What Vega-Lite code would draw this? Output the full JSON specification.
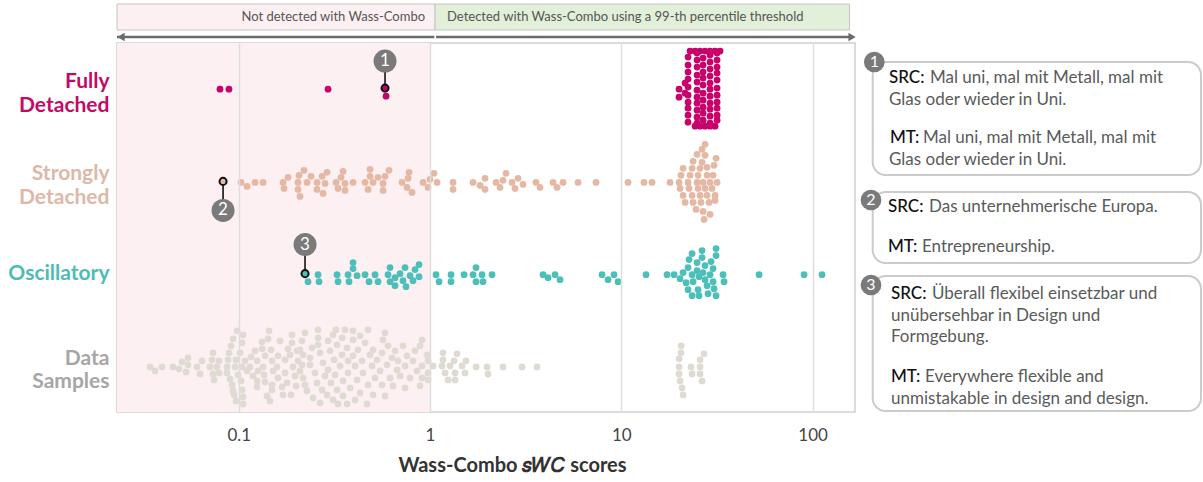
{
  "$schema": "https://vega.github.io/schema/vega-lite/v6.json",
  "background": "white",
  "padding": {"left": 7, "top": 0, "right": 0, "bottom": 0},
  "config": {"font": "Lato", "view": {"stroke": null}},
  "datasets": {
    "points": [
      {"group":"F","score":0.0798,"offset":0},{"group":"F","score":0.0889,"offset":0},{"group":"F","score":0.293,"offset":0},{"group":"F","score":0.5818,"offset":-1},{"group":"F","score":0.5888,"offset":7},
      {"group":"F","score":22.32,"offset":-32},{"group":"F","score":22.32,"offset":-24},{"group":"F","score":22.32,"offset":-17},{"group":"F","score":22.32,"offset":-10},{"group":"F","score":22.32,"offset":-2},{"group":"F","score":22.32,"offset":6},{"group":"F","score":22.32,"offset":13},{"group":"F","score":22.32,"offset":19},{"group":"F","score":22.32,"offset":26},{"group":"F","score":22.32,"offset":33},
      {"group":"F","score":24.88,"offset":-36},{"group":"F","score":24.88,"offset":-29},{"group":"F","score":24.88,"offset":-22},{"group":"F","score":24.88,"offset":-14},{"group":"F","score":24.88,"offset":-7},{"group":"F","score":24.88,"offset":1},{"group":"F","score":24.88,"offset":8},{"group":"F","score":24.88,"offset":14},{"group":"F","score":24.88,"offset":21},{"group":"F","score":24.88,"offset":28},{"group":"F","score":24.88,"offset":34},
      {"group":"F","score":26.74,"offset":-31},{"group":"F","score":26.74,"offset":-24},{"group":"F","score":26.74,"offset":-17},{"group":"F","score":26.74,"offset":-11},{"group":"F","score":26.74,"offset":-4},{"group":"F","score":26.74,"offset":4},{"group":"F","score":26.74,"offset":11},{"group":"F","score":26.74,"offset":18},{"group":"F","score":26.74,"offset":24},{"group":"F","score":26.74,"offset":31},
      {"group":"F","score":29.09,"offset":-34},{"group":"F","score":29.09,"offset":-27},{"group":"F","score":29.09,"offset":-20},{"group":"F","score":29.09,"offset":-13},{"group":"F","score":29.09,"offset":-6},{"group":"F","score":29.09,"offset":0},{"group":"F","score":29.09,"offset":7},{"group":"F","score":29.09,"offset":14},{"group":"F","score":29.09,"offset":20},{"group":"F","score":29.09,"offset":27},{"group":"F","score":29.09,"offset":34},
      {"group":"F","score":31.65,"offset":-36},{"group":"F","score":31.65,"offset":-29},{"group":"F","score":31.65,"offset":-22},{"group":"F","score":31.65,"offset":-16},{"group":"F","score":31.65,"offset":-9},{"group":"F","score":31.65,"offset":-1},{"group":"F","score":31.65,"offset":6},{"group":"F","score":31.65,"offset":13},{"group":"F","score":31.65,"offset":19},{"group":"F","score":31.65,"offset":26},{"group":"F","score":31.65,"offset":31},
      {"group":"F","score":20.03,"offset":0},{"group":"F","score":20.03,"offset":8},{"group":"F","score":21.53,"offset":-6},{"group":"F","score":21.53,"offset":4},
      {"group":"F","score":22.87,"offset":-38},{"group":"F","score":24.29,"offset":-38},{"group":"F","score":25.79,"offset":-38},{"group":"F","score":27.39,"offset":-38},{"group":"F","score":29.09,"offset":-38},{"group":"F","score":30.9,"offset":-38},{"group":"F","score":32.81,"offset":-38},
      {"group":"F","score":24.29,"offset":37},{"group":"F","score":25.79,"offset":37},{"group":"F","score":27.39,"offset":37},{"group":"F","score":29.09,"offset":37},{"group":"F","score":30.9,"offset":37},

      {"group":"S","score":0.0828,"offset":0},{"group":"S","score":0.1028,"offset":1},{"group":"S","score":0.1105,"offset":5},{"group":"S","score":0.1217,"offset":1},{"group":"S","score":0.134,"offset":1},{"group":"S","score":0.1704,"offset":1},{"group":"S","score":0.181,"offset":-4},{"group":"S","score":0.1725,"offset":7},{"group":"S","score":0.2066,"offset":-6},{"group":"S","score":0.2194,"offset":-11},{"group":"S","score":0.2041,"offset":1},{"group":"S","score":0.2041,"offset":8},{"group":"S","score":0.2091,"offset":15},{"group":"S","score":0.2275,"offset":1},{"group":"S","score":0.2388,"offset":-5},{"group":"S","score":0.2567,"offset":1},{"group":"S","score":0.2567,"offset":8},{"group":"S","score":0.2759,"offset":12},{"group":"S","score":0.2726,"offset":-5},{"group":"S","score":0.2895,"offset":-9},{"group":"S","score":0.2826,"offset":2},{"group":"S","score":0.3226,"offset":1},{"group":"S","score":0.3304,"offset":7},{"group":"S","score":0.3426,"offset":-4},{"group":"S","score":0.351,"offset":-10},{"group":"S","score":0.3595,"offset":2},{"group":"S","score":0.3595,"offset":9},{"group":"S","score":0.3958,"offset":1},{"group":"S","score":0.4573,"offset":1},{"group":"S","score":0.4741,"offset":8},{"group":"S","score":0.4857,"offset":-12},{"group":"S","score":0.4857,"offset":-5},{"group":"S","score":0.5036,"offset":1},{"group":"S","score":0.5348,"offset":-4},{"group":"S","score":0.568,"offset":2},{"group":"S","score":0.568,"offset":9},{"group":"S","score":0.5818,"offset":-5},{"group":"S","score":0.6105,"offset":-11},{"group":"S","score":0.7139,"offset":1},{"group":"S","score":0.7582,"offset":6},{"group":"S","score":0.7674,"offset":-3},{"group":"S","score":0.7767,"offset":-9},{"group":"S","score":0.8052,"offset":11},{"group":"S","score":0.9193,"offset":1},{"group":"S","score":0.9763,"offset":6},{"group":"S","score":1.0,"offset":-2},{"group":"S","score":1.0493,"offset":-8},{"group":"S","score":1.088,"offset":1},{"group":"S","score":1.319,"offset":1},{"group":"S","score":1.319,"offset":8},{"group":"S","score":1.678,"offset":1},{"group":"S","score":1.825,"offset":4},{"group":"S","score":1.938,"offset":-3},{"group":"S","score":1.938,"offset":8},{"group":"S","score":2.213,"offset":1},{"group":"S","score":2.322,"offset":6},{"group":"S","score":2.407,"offset":-1},{"group":"S","score":2.496,"offset":-8},{"group":"S","score":2.683,"offset":1},{"group":"S","score":2.782,"offset":7},{"group":"S","score":2.884,"offset":-3},{"group":"S","score":3.063,"offset":3},{"group":"S","score":3.582,"offset":1},{"group":"S","score":3.758,"offset":6},{"group":"S","score":4.395,"offset":1},{"group":"S","score":4.612,"offset":6},{"group":"S","score":4.957,"offset":1},{"group":"S","score":5.938,"offset":1},{"group":"S","score":7.375,"offset":1},{"group":"S","score":10.84,"offset":1},{"group":"S","score":13.14,"offset":1},{"group":"S","score":14.47,"offset":1},{"group":"S","score":17.97,"offset":1},
      {"group":"S","score":27.39,"offset":-37},{"group":"S","score":26.42,"offset":-32},{"group":"S","score":24.88,"offset":-27},{"group":"S","score":27.39,"offset":-26},{"group":"S","score":23.71,"offset":-20},{"group":"S","score":26.42,"offset":-19},{"group":"S","score":31.27,"offset":-23},
      {"group":"S","score":21.02,"offset":-13},{"group":"S","score":23.43,"offset":-13},{"group":"S","score":25.79,"offset":-13},{"group":"S","score":28.06,"offset":-14},{"group":"S","score":30.52,"offset":-16},
      {"group":"S","score":20.52,"offset":-6},{"group":"S","score":22.87,"offset":-6},{"group":"S","score":25.18,"offset":-6},{"group":"S","score":28.06,"offset":-6},{"group":"S","score":30.16,"offset":-6},
      {"group":"S","score":20.03,"offset":1},{"group":"S","score":22.32,"offset":1},{"group":"S","score":24.88,"offset":1},{"group":"S","score":26.74,"offset":1},{"group":"S","score":29.09,"offset":1},{"group":"S","score":31.65,"offset":1},
      {"group":"S","score":20.27,"offset":7},{"group":"S","score":22.59,"offset":7},{"group":"S","score":25.18,"offset":7},{"group":"S","score":27.39,"offset":7},{"group":"S","score":29.8,"offset":7},
      {"group":"S","score":21.02,"offset":14},{"group":"S","score":23.43,"offset":14},{"group":"S","score":25.79,"offset":14},{"group":"S","score":28.06,"offset":14},{"group":"S","score":30.9,"offset":14},
      {"group":"S","score":21.53,"offset":21},{"group":"S","score":23.71,"offset":21},{"group":"S","score":26.1,"offset":21},{"group":"S","score":28.74,"offset":21},{"group":"S","score":30.9,"offset":19},
      {"group":"S","score":24.58,"offset":28},{"group":"S","score":26.74,"offset":30},{"group":"S","score":29.09,"offset":33},{"group":"S","score":27.06,"offset":38},

      {"group":"O","score":0.2221,"offset":0},{"group":"O","score":0.2302,"offset":8},{"group":"O","score":0.2597,"offset":1},{"group":"O","score":0.2629,"offset":8},{"group":"O","score":0.3265,"offset":1},{"group":"O","score":0.3304,"offset":8},{"group":"O","score":0.3727,"offset":1},{"group":"O","score":0.3772,"offset":8},{"group":"O","score":0.3958,"offset":-11},{"group":"O","score":0.3958,"offset":-5},{"group":"O","score":0.4154,"offset":2},{"group":"O","score":0.4573,"offset":1},{"group":"O","score":0.4799,"offset":8},{"group":"O","score":0.5159,"offset":1},{"group":"O","score":0.5348,"offset":8},{"group":"O","score":0.6032,"offset":1},{"group":"O","score":0.6179,"offset":-6},{"group":"O","score":0.6179,"offset":8},{"group":"O","score":0.6563,"offset":4},{"group":"O","score":0.6563,"offset":12},{"group":"O","score":0.6969,"offset":0},{"group":"O","score":0.7225,"offset":7},{"group":"O","score":0.7402,"offset":-6},{"group":"O","score":0.7491,"offset":13},{"group":"O","score":0.786,"offset":2},{"group":"O","score":0.8149,"offset":7},{"group":"O","score":0.8348,"offset":-4},{"group":"O","score":0.876,"offset":3},{"group":"O","score":0.876,"offset":-9},{"group":"O","score":1.0749,"offset":1},{"group":"O","score":1.1145,"offset":8},{"group":"O","score":1.2874,"offset":1},{"group":"O","score":1.2874,"offset":8},{"group":"O","score":1.506,"offset":1},{"group":"O","score":1.678,"offset":1},{"group":"O","score":1.739,"offset":-6},{"group":"O","score":1.739,"offset":8},{"group":"O","score":1.87,"offset":1},{"group":"O","score":1.892,"offset":8},{"group":"O","score":2.109,"offset":1},{"group":"O","score":3.896,"offset":1},{"group":"O","score":4.138,"offset":4},{"group":"O","score":4.502,"offset":1},{"group":"O","score":4.781,"offset":6},{"group":"O","score":7.928,"offset":1},{"group":"O","score":8.521,"offset":6},{"group":"O","score":9.159,"offset":1},{"group":"O","score":9.612,"offset":8},{"group":"O","score":13.46,"offset":1},{"group":"O","score":17.33,"offset":1},{"group":"O","score":18.86,"offset":1},
      {"group":"O","score":20.27,"offset":5},{"group":"O","score":21.02,"offset":-1},{"group":"O","score":21.79,"offset":9},{"group":"O","score":22.32,"offset":-6},{"group":"O","score":22.32,"offset":16},{"group":"O","score":22.59,"offset":-14},{"group":"O","score":23.43,"offset":-20},{"group":"O","score":23.43,"offset":1},{"group":"O","score":23.43,"offset":22},{"group":"O","score":23.71,"offset":8},{"group":"O","score":24.88,"offset":-11},{"group":"O","score":24.88,"offset":-3},{"group":"O","score":25.18,"offset":16},{"group":"O","score":25.48,"offset":22},{"group":"O","score":25.48,"offset":3},{"group":"O","score":26.42,"offset":-23},{"group":"O","score":26.42,"offset":-16},{"group":"O","score":26.74,"offset":-1},{"group":"O","score":27.39,"offset":-8},{"group":"O","score":27.39,"offset":6},{"group":"O","score":28.06,"offset":12},{"group":"O","score":28.4,"offset":20},{"group":"O","score":29.09,"offset":1},{"group":"O","score":29.44,"offset":-12},{"group":"O","score":30.16,"offset":8},{"group":"O","score":30.16,"offset":-5},{"group":"O","score":30.52,"offset":15},{"group":"O","score":31.27,"offset":-18},{"group":"O","score":31.27,"offset":-25},{"group":"O","score":31.27,"offset":22},{"group":"O","score":34.02,"offset":1},{"group":"O","score":34.43,"offset":8},{"group":"O","score":52.5,"offset":1},{"group":"O","score":90.2,"offset":1},{"group":"O","score":112,"offset":1},

      {"group":"D","score":0.0344,"offset":1},{"group":"D","score":0.0365,"offset":5},{"group":"D","score":0.0397,"offset":1},{"group":"D","score":0.0453,"offset":1},{"group":"D","score":0.0487,"offset":3},{"group":"D","score":0.0505,"offset":-4},{"group":"D","score":0.053,"offset":6},{"group":"D","score":0.0543,"offset":-1},{"group":"D","score":0.0543,"offset":-8},{"group":"D","score":0.0605,"offset":1},{"group":"D","score":0.0628,"offset":8},{"group":"D","score":0.0643,"offset":-5},{"group":"D","score":0.0708,"offset":1},{"group":"D","score":0.0725,"offset":-6},{"group":"D","score":0.0734,"offset":-13},{"group":"D","score":0.0734,"offset":8},{"group":"D","score":0.0743,"offset":14},{"group":"D","score":0.077,"offset":1},{"group":"D","score":0.0789,"offset":-5},{"group":"D","score":0.0789,"offset":7},
      {"group":"D","score":0.0869,"offset":1},{"group":"D","score":0.0879,"offset":-6},{"group":"D","score":0.0869,"offset":7},{"group":"D","score":0.089,"offset":-13},{"group":"D","score":0.0912,"offset":-20},{"group":"D","score":0.0901,"offset":13},{"group":"D","score":0.0923,"offset":19},{"group":"D","score":0.0934,"offset":25},{"group":"D","score":0.0934,"offset":-27},{"group":"D","score":0.098,"offset":-35},{"group":"D","score":0.0945,"offset":29},{"group":"D","score":0.0968,"offset":35},{"group":"D","score":0.0957,"offset":1},{"group":"D","score":0.0968,"offset":-6},{"group":"D","score":0.0992,"offset":9},
      {"group":"D","score":0.1016,"offset":-13},{"group":"D","score":0.1041,"offset":-23},{"group":"D","score":0.1053,"offset":-31},{"group":"D","score":0.1028,"offset":15},{"group":"D","score":0.1041,"offset":24},{"group":"D","score":0.1053,"offset":31},{"group":"D","score":0.1053,"offset":38},{"group":"D","score":0.1041,"offset":1},{"group":"D","score":0.1079,"offset":-5},{"group":"D","score":0.1105,"offset":5},{"group":"D","score":0.1146,"offset":1},{"group":"D","score":0.116,"offset":-9},{"group":"D","score":0.1188,"offset":10},{"group":"D","score":0.1217,"offset":-15},{"group":"D","score":0.1247,"offset":-5},{"group":"D","score":0.1262,"offset":5},{"group":"D","score":0.1247,"offset":15},{"group":"D","score":0.1247,"offset":21},
      {"group":"D","score":0.1324,"offset":-24},{"group":"D","score":0.1324,"offset":-17},{"group":"D","score":0.134,"offset":1},{"group":"D","score":0.1372,"offset":-10},{"group":"D","score":0.1356,"offset":9},{"group":"D","score":0.1372,"offset":16},{"group":"D","score":0.1406,"offset":30},{"group":"D","score":0.144,"offset":-35},{"group":"D","score":0.1423,"offset":-27},{"group":"D","score":0.1457,"offset":35},{"group":"D","score":0.1475,"offset":-16},{"group":"D","score":0.1493,"offset":-5},{"group":"D","score":0.1511,"offset":5},{"group":"D","score":0.1493,"offset":19},{"group":"D","score":0.1493,"offset":24},
      {"group":"D","score":0.1585,"offset":1},{"group":"D","score":0.1604,"offset":-10},{"group":"D","score":0.1604,"offset":12},{"group":"D","score":0.1644,"offset":-25},{"group":"D","score":0.1684,"offset":21},{"group":"D","score":0.1704,"offset":29},{"group":"D","score":0.1746,"offset":-6},{"group":"D","score":0.1746,"offset":7},{"group":"D","score":0.1789,"offset":17},{"group":"D","score":0.181,"offset":-17},{"group":"D","score":0.1854,"offset":-11},{"group":"D","score":0.1876,"offset":29},{"group":"D","score":0.1899,"offset":-31},{"group":"D","score":0.1899,"offset":-23},{"group":"D","score":0.1922,"offset":1},{"group":"D","score":0.1969,"offset":10},{"group":"D","score":0.1993,"offset":20},{"group":"D","score":0.2017,"offset":-15},{"group":"D","score":0.2041,"offset":-5},
      {"group":"D","score":0.2221,"offset":-33},{"group":"D","score":0.2142,"offset":-25},{"group":"D","score":0.2091,"offset":-16},{"group":"D","score":0.2168,"offset":-11},{"group":"D","score":0.2142,"offset":-1},{"group":"D","score":0.2091,"offset":5},{"group":"D","score":0.2168,"offset":12},{"group":"D","score":0.2221,"offset":19},{"group":"D","score":0.2275,"offset":25},{"group":"D","score":0.2359,"offset":-1},{"group":"D","score":0.2359,"offset":-8},{"group":"D","score":0.2417,"offset":-18},{"group":"D","score":0.2446,"offset":32},{"group":"D","score":0.2505,"offset":7},{"group":"D","score":0.2567,"offset":17},{"group":"D","score":0.2597,"offset":-36},{"group":"D","score":0.2597,"offset":-28},{"group":"D","score":0.2597,"offset":-21},{"group":"D","score":0.2661,"offset":-13},{"group":"D","score":0.2661,"offset":37},
      {"group":"D","score":0.2726,"offset":24},{"group":"D","score":0.2759,"offset":-3},{"group":"D","score":0.2826,"offset":10},{"group":"D","score":0.2895,"offset":29},{"group":"D","score":0.293,"offset":-25},{"group":"D","score":0.293,"offset":4},{"group":"D","score":0.3001,"offset":-15},{"group":"D","score":0.3037,"offset":17},{"group":"D","score":0.3111,"offset":-31},{"group":"D","score":0.3111,"offset":34},{"group":"D","score":0.3149,"offset":-6},{"group":"D","score":0.3226,"offset":-36},{"group":"D","score":0.3187,"offset":9},{"group":"D","score":0.3265,"offset":-21},{"group":"D","score":0.3265,"offset":24},{"group":"D","score":0.3304,"offset":38},
      {"group":"D","score":0.3385,"offset":0},{"group":"D","score":0.3468,"offset":-28},{"group":"D","score":0.3468,"offset":-11},{"group":"D","score":0.351,"offset":15},{"group":"D","score":0.351,"offset":30},{"group":"D","score":0.3595,"offset":-36},{"group":"D","score":0.3683,"offset":38},{"group":"D","score":0.3683,"offset":-18},{"group":"D","score":0.3727,"offset":-5},{"group":"D","score":0.3727,"offset":7},{"group":"D","score":0.3818,"offset":22},{"group":"D","score":0.3958,"offset":-35},{"group":"D","score":0.3958,"offset":-26},{"group":"D","score":0.3958,"offset":-10},{"group":"D","score":0.4055,"offset":0},{"group":"D","score":0.4055,"offset":34},{"group":"D","score":0.4154,"offset":14},{"group":"D","score":0.4204,"offset":-16},{"group":"D","score":0.4306,"offset":-30},{"group":"D","score":0.4306,"offset":27},
      {"group":"D","score":0.4411,"offset":-5},{"group":"D","score":0.4464,"offset":7},{"group":"D","score":0.4573,"offset":-23},{"group":"D","score":0.4685,"offset":38},{"group":"D","score":0.4741,"offset":-36},{"group":"D","score":0.4741,"offset":19},{"group":"D","score":0.4857,"offset":-11},{"group":"D","score":0.4976,"offset":0},{"group":"D","score":0.5036,"offset":-16},{"group":"D","score":0.5036,"offset":29},{"group":"D","score":0.5159,"offset":12},{"group":"D","score":0.5284,"offset":-6},{"group":"D","score":0.5478,"offset":5},{"group":"D","score":0.5612,"offset":-13},{"group":"D","score":0.5612,"offset":19},{"group":"D","score":0.568,"offset":-26},{"group":"D","score":0.5818,"offset":-33},{"group":"D","score":0.5818,"offset":30},{"group":"D","score":0.596,"offset":-1},{"group":"D","score":0.6032,"offset":-20},
      {"group":"D","score":0.6179,"offset":12},{"group":"D","score":0.633,"offset":-8},{"group":"D","score":0.6406,"offset":20},{"group":"D","score":0.6563,"offset":-15},{"group":"D","score":0.6723,"offset":4},{"group":"D","score":0.6804,"offset":-5},{"group":"D","score":0.6969,"offset":10},{"group":"D","score":0.7225,"offset":-20},{"group":"D","score":0.7402,"offset":0},{"group":"D","score":0.7402,"offset":22},{"group":"D","score":0.7582,"offset":-10},{"group":"D","score":0.786,"offset":12},{"group":"D","score":0.8149,"offset":-5},{"group":"D","score":0.8348,"offset":-15},{"group":"D","score":0.8552,"offset":5},{"group":"D","score":0.8867,"offset":-20},{"group":"D","score":0.8867,"offset":20},{"group":"D","score":0.9083,"offset":-26},{"group":"D","score":0.9083,"offset":0},{"group":"D","score":0.9083,"offset":12},
      {"group":"D","score":0.9648,"offset":-11},{"group":"D","score":0.9763,"offset":-5},{"group":"D","score":0.9763,"offset":7},{"group":"D","score":0.9763,"offset":14},{"group":"D","score":1.0368,"offset":0},{"group":"D","score":1.155,"offset":0},{"group":"D","score":1.169,"offset":-13},{"group":"D","score":1.169,"offset":-6},{"group":"D","score":1.198,"offset":7},{"group":"D","score":1.242,"offset":14},{"group":"D","score":1.272,"offset":0},{"group":"D","score":1.335,"offset":-5},{"group":"D","score":1.351,"offset":7},{"group":"D","score":1.351,"offset":14},{"group":"D","score":1.384,"offset":-12},{"group":"D","score":1.47,"offset":0},{"group":"D","score":1.542,"offset":-5},{"group":"D","score":1.524,"offset":7},{"group":"D","score":1.741,"offset":1},{"group":"D","score":1.986,"offset":1},{"group":"D","score":2.009,"offset":8},{"group":"D","score":2.407,"offset":1},{"group":"D","score":3.026,"offset":1},{"group":"D","score":3.625,"offset":1},
      {"group":"D","score":20.52,"offset":-20},{"group":"D","score":20.52,"offset":-13},{"group":"D","score":20.03,"offset":-7},{"group":"D","score":20.03,"offset":1},{"group":"D","score":20.03,"offset":8},{"group":"D","score":20.27,"offset":15},{"group":"D","score":20.76,"offset":22},{"group":"D","score":21.02,"offset":29},{"group":"D","score":23.15,"offset":1},{"group":"D","score":23.43,"offset":8},{"group":"D","score":25.79,"offset":-6},{"group":"D","score":25.79,"offset":1},{"group":"D","score":25.79,"offset":8},{"group":"D","score":26.42,"offset":15},{"group":"D","score":27.06,"offset":-12}
    ],
    "notes": [
      {"group":"F","score":0.5818,"offset":-1,"num":"1","badge":-28,"stem":-14},
      {"group":"S","score":0.0828,"offset":0,"num":"2","badge":29,"stem":14},
      {"group":"O","score":0.2221,"offset":0,"num":"3","badge":-29,"stem":-14}
    ]
  },
  "spacing": 2,
  "hconcat": [
    {
      "spacing": 5,
      "bounds": "flush",
      "vconcat": [
        {
          "width": 738,
          "height": 38,
          "view": {"stroke": null},
          "layer": [
            {
              "data": {"values": [{"from": 0.0231, "to": 1.062}]},
              "mark": {"type": "rect", "fill": "#fdf0f2", "stroke": "#c4c4c4", "strokeWidth": 1},
              "encoding": {
                "x": {"field": "from", "type": "quantitative", "scale": {"type": "log", "domain": [0.0231, 166.5], "nice": false}, "axis": null},
                "x2": {"field": "to"},
                "y": {"datum": 4, "type": "quantitative", "scale": {"domain": [38, 0]}, "axis": null},
                "y2": {"datum": 30}
              }
            },
            {
              "data": {"values": [{"from": 1.062, "to": 155.9}]},
              "mark": {"type": "rect", "fill": "#e2efd9", "stroke": "#c4c4c4", "strokeWidth": 1},
              "encoding": {
                "x": {"field": "from", "type": "quantitative", "scale": {"type": "log", "domain": [0.0231, 166.5], "nice": false}, "axis": null},
                "x2": {"field": "to"},
                "y": {"datum": 4, "type": "quantitative", "scale": {"domain": [38, 0]}, "axis": null},
                "y2": {"datum": 30}
              }
            },
            {
              "data": {"values": [{"label": "Not detected with Wass-Combo", "at": 0.9416}]},
              "mark": {"type": "text", "align": "right", "baseline": "middle", "fontSize": 13, "color": "#555555"},
              "encoding": {
                "x": {"field": "at", "type": "quantitative", "scale": {"type": "log", "domain": [0.0231, 166.5], "nice": false}, "axis": null},
                "y": {"datum": 17, "type": "quantitative", "scale": {"domain": [38, 0]}, "axis": null},
                "text": {"field": "label"}
              }
            },
            {
              "data": {"values": [{"label": "Detected with Wass-Combo using a 99-th percentile threshold", "at": 1.227}]},
              "mark": {"type": "text", "align": "left", "baseline": "middle", "fontSize": 13, "color": "#555555"},
              "encoding": {
                "x": {"field": "at", "type": "quantitative", "scale": {"type": "log", "domain": [0.0231, 166.5], "nice": false}, "axis": null},
                "y": {"datum": 17, "type": "quantitative", "scale": {"domain": [38, 0]}, "axis": null},
                "text": {"field": "label"}
              }
            },
            {
              "data": {"values": [{"from": 0.0231, "to": 1.053}, {"from": 1.075, "to": 162}]},
              "mark": {"type": "rule", "color": "#6b6b6b", "strokeWidth": 2.5},
              "encoding": {
                "x": {"field": "from", "type": "quantitative", "scale": {"type": "log", "domain": [0.0231, 166.5], "nice": false}, "axis": null},
                "x2": {"field": "to"},
                "y": {"datum": 37, "type": "quantitative", "scale": {"domain": [38, 0]}, "axis": null}
              }
            },
            {
              "data": {"values": [{"at": 0.02425, "dir": "left"}, {"at": 160.7, "dir": "right"}]},
              "mark": {"type": "point", "filled": true, "size": 70, "opacity": 1, "color": "#6b6b6b"},
              "encoding": {
                "x": {"field": "at", "type": "quantitative", "scale": {"type": "log", "domain": [0.0231, 166.5], "nice": false}, "axis": null},
                "y": {"datum": 37, "type": "quantitative", "scale": {"domain": [38, 0]}, "axis": null},
                "shape": {"field": "dir", "type": "nominal", "scale": {"domain": ["left", "right"], "range": ["triangle-left", "triangle-right"]}, "legend": null}
              }
            }
          ]
        },
        {
          "width": 738,
          "height": 369,
          "view": {"stroke": "#cfcfcf", "strokeWidth": 1.5},
          "layer": [
            {
              "data": {"values": [{"from": 0.0231, "to": 1}]},
              "mark": {"type": "rect", "color": "#fdf0f2"},
              "encoding": {
                "x": {"field": "from", "type": "quantitative", "scale": {"type": "log", "domain": [0.0231, 166.5], "nice": false}},
                "x2": {"field": "to"}
              }
            },
            {
              "data": {"name": "points"},
              "mark": {"type": "point", "filled": true, "size": 46, "opacity": 1},
              "encoding": {
                "x": {"field": "score", "type": "quantitative", "scale": {"type": "log", "domain": [0.0231, 166.5], "nice": false},
                  "axis": {"values": [0.1, 1, 10, 100], "format": "~g", "zindex": 1, "grid": true, "gridColor": "#dddddd", "gridWidth": 1.5, "ticks": false, "domain": false, "labelFontSize": 17, "labelColor": "#444444", "labelPadding": 15, "title": "Wass-Combo 𝑠𝑊𝐶 scores", "titleFontSize": 20, "titleFontWeight": "bold", "titleColor": "#333333", "titlePadding": 12, "titleX": 395, "titleAlign": "center"}},
                "y": {"field": "group", "type": "nominal", "sort": ["F", "S", "O", "D"], "scale": {"paddingInner": 0, "paddingOuter": 0},
                  "axis": {"title": null, "ticks": false, "domain": false, "grid": false, "labelFontSize": 21, "labelFontWeight": "bold", "labelPadding": 8, "labelLineHeight": 23.5, "labelBaseline": "middle",
                    "labelExpr": "datum.value == 'F' ? ['Fully', 'Detached'] : datum.value == 'S' ? ['Strongly', 'Detached'] : datum.value == 'O' ? 'Oscillatory' : ['Data', 'Samples']",
                    "labelColor": {"expr": "datum.value == 'F' ? '#c40a66' : datum.value == 'S' ? '#ddb8a8' : datum.value == 'O' ? '#4dbcb7' : '#a6a6a6'"},
                    "labelOffset": {"condition": {"test": "datum.value == 'O'", "value": 0}, "value": -7}}},
                "yOffset": {"field": "offset", "type": "quantitative", "scale": {"domain": [-46.1, 46.1]}},
                "color": {"field": "group", "type": "nominal", "scale": {"domain": ["F", "S", "O", "D"], "range": ["#c8026b", "#e5b8a4", "#4cbfba", "#dfdbd3"]}, "legend": null}
              }
            },
            {
              "data": {"name": "notes"},
              "mark": {"type": "point", "shape": "M0,-1L0,1", "size": 784, "filled": false, "color": "#111111", "strokeWidth": 1.6, "opacity": 1},
              "encoding": {
                "x": {"field": "score", "type": "quantitative", "scale": {"type": "log", "domain": [0.0231, 166.5], "nice": false}},
                "y": {"field": "group", "type": "nominal", "sort": ["F", "S", "O", "D"]},
                "yOffset": {"field": "stem", "type": "quantitative", "scale": {"domain": [-46.1, 46.1]}}
              }
            },
            {
              "data": {"name": "notes"},
              "mark": {"type": "point", "filled": true, "size": 50, "opacity": 1, "stroke": "#111111", "strokeWidth": 2},
              "encoding": {
                "x": {"field": "score", "type": "quantitative", "scale": {"type": "log", "domain": [0.0231, 166.5], "nice": false}},
                "y": {"field": "group", "type": "nominal", "sort": ["F", "S", "O", "D"]},
                "yOffset": {"field": "offset", "type": "quantitative", "scale": {"domain": [-46.1, 46.1]}},
                "color": {"field": "group", "type": "nominal", "scale": {"domain": ["F", "S", "O", "D"], "range": ["#c8026b", "#e5b8a4", "#4cbfba", "#dfdbd3"]}, "legend": null}
              }
            },
            {
              "data": {"name": "notes"},
              "mark": {"type": "point", "filled": true, "size": 530, "opacity": 1, "color": "#7a7a7a"},
              "encoding": {
                "x": {"field": "score", "type": "quantitative", "scale": {"type": "log", "domain": [0.0231, 166.5], "nice": false}},
                "y": {"field": "group", "type": "nominal", "sort": ["F", "S", "O", "D"]},
                "yOffset": {"field": "badge", "type": "quantitative", "scale": {"domain": [-46.1, 46.1]}}
              }
            },
            {
              "data": {"name": "notes"},
              "mark": {"type": "text", "fontSize": 17, "color": "white", "baseline": "middle", "align": "center"},
              "encoding": {
                "x": {"field": "score", "type": "quantitative", "scale": {"type": "log", "domain": [0.0231, 166.5], "nice": false}},
                "y": {"field": "group", "type": "nominal", "sort": ["F", "S", "O", "D"]},
                "yOffset": {"field": "badge", "type": "quantitative", "scale": {"domain": [-46.1, 46.1]}},
                "text": {"field": "num"}
              }
            }
          ]
        }
      ]
    },
    {
      "width": 346,
      "height": 412,
      "view": {"stroke": null},
      "layer": [
        {
          "data": {"values": [
            {"box": 1, "left": 14.7, "right": 343, "top": 62, "bottom": 175},
            {"box": 2, "left": 14.7, "right": 343, "top": 192, "bottom": 263},
            {"box": 3, "left": 14.7, "right": 343, "top": 276, "bottom": 411}
          ]},
          "mark": {"type": "rect", "fill": "white", "stroke": "#cbcbcb", "strokeWidth": 2, "cornerRadius": 13},
          "encoding": {
            "x": {"field": "left", "type": "quantitative", "scale": {"domain": [0, 346]}, "axis": null},
            "x2": {"field": "right"},
            "y": {"field": "top", "type": "quantitative", "scale": {"domain": [412, 0]}, "axis": null},
            "y2": {"field": "bottom"}
          }
        },
        {
          "data": {"values": [
            {"num": "1", "x": 16.3, "y": 62},
            {"num": "2", "x": 13, "y": 200},
            {"num": "3", "x": 13, "y": 285}
          ]},
          "layer": [
            {
              "mark": {"type": "point", "filled": true, "size": 430, "opacity": 1, "color": "#7a7a7a"},
              "encoding": {
                "x": {"field": "x", "type": "quantitative", "scale": {"domain": [0, 346]}, "axis": null},
                "y": {"field": "y", "type": "quantitative", "scale": {"domain": [412, 0]}, "axis": null}
              }
            },
            {
              "mark": {"type": "text", "fontSize": 16, "color": "white", "baseline": "middle", "align": "center"},
              "encoding": {
                "x": {"field": "x", "type": "quantitative", "scale": {"domain": [0, 346]}, "axis": null},
                "y": {"field": "y", "type": "quantitative", "scale": {"domain": [412, 0]}, "axis": null},
                "text": {"field": "num"}
              }
            }
          ]
        },
        {
          "data": {"values": [
            {"lead": "SRC:", "rest": "Mal uni, mal mit Metall, mal mit", "x": 31, "restx": 72, "y": 78},
            {"lead": "", "rest": "Glas oder wieder in Uni.", "x": 31, "restx": 31, "y": 100},
            {"lead": "MT:", "rest": "Mal uni, mal mit Metall, mal mit", "x": 32, "restx": 65, "y": 138},
            {"lead": "", "rest": "Glas oder wieder in Uni.", "x": 31, "restx": 31, "y": 160},
            {"lead": "SRC:", "rest": "Das unternehmerische Europa.", "x": 30, "restx": 71, "y": 207},
            {"lead": "MT:", "rest": "Entrepreneurship.", "x": 30, "restx": 64, "y": 247},
            {"lead": "SRC:", "rest": "Überall flexibel einsetzbar und", "x": 33, "restx": 74, "y": 294},
            {"lead": "", "rest": "unübersehbar in Design und", "x": 33, "restx": 33, "y": 315.5},
            {"lead": "", "rest": "Formgebung.", "x": 33, "restx": 33, "y": 337},
            {"lead": "MT:", "rest": "Everywhere flexible and", "x": 33, "restx": 67, "y": 377},
            {"lead": "", "rest": "unmistakable in design and design.", "x": 33, "restx": 33, "y": 398.5}
          ]},
          "layer": [
            {
              "mark": {"type": "text", "fontSize": 17, "color": "#5a5a5a", "align": "left", "baseline": "middle"},
              "encoding": {
                "x": {"field": "restx", "type": "quantitative", "scale": {"domain": [0, 346]}, "axis": null},
                "y": {"field": "y", "type": "quantitative", "scale": {"domain": [412, 0]}, "axis": null},
                "text": {"field": "rest"}
              }
            },
            {
              "transform": [{"filter": "datum.lead != ''"}],
              "mark": {"type": "text", "fontSize": 17, "fontWeight": 500, "color": "#111111", "align": "left", "baseline": "middle"},
              "encoding": {
                "x": {"field": "x", "type": "quantitative", "scale": {"domain": [0, 346]}, "axis": null},
                "y": {"field": "y", "type": "quantitative", "scale": {"domain": [412, 0]}, "axis": null},
                "text": {"field": "lead"}
              }
            }
          ]
        }
      ]
    }
  ]
}
